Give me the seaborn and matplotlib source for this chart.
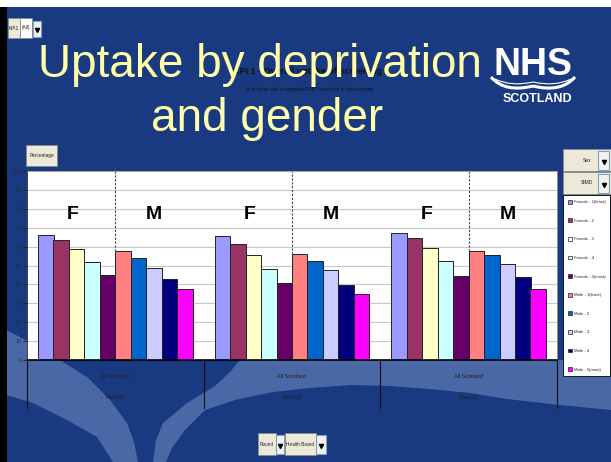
import numpy as np
import pandas as pd
import matplotlib
matplotlib.use("Agg")
import matplotlib.pyplot as plt
from matplotlib.patches import Rectangle, Polygon, Patch, PathPatch
from matplotlib.path import Path
import seaborn as sns

# Chart data
rounds = ["Round1", "Round2", "Round3"]
series = ["Female - 1(least)", "Female - 2", "Female - 3", "Female - 4", "Female - 5(most)",
          "Male - 1(least)", "Male - 2", "Male - 3", "Male - 4", "Male - 5(most)"]
round1 = [66.3, 63.4, 58.9, 51.7, 45.1, 57.6, 54.0, 48.8, 43.0, 37.6]
round2 = [65.6, 61.2, 55.4, 48.0, 40.7, 56.1, 52.6, 47.4, 39.9, 34.7]
round3 = [67.2, 64.3, 59.0, 52.6, 44.3, 57.8, 55.4, 51.0, 43.7, 37.7]
colors = ["#9999FF", "#993366", "#FFFFCC", "#CCFFFF", "#660066",
          "#FF8080", "#0066CC", "#CCCCFF", "#000080", "#FF00FF"]
area_label = "All Scotland"

rows = []
for r, vals in zip(rounds, [round1, round2, round3]):
    for s, v in zip(series, vals):
        rows.append({"Round": r, "SIMD": s, "Percentage": v})
df = pd.DataFrame(rows)

sns.set_style("white")
plt.rcParams["font.family"] = ["Liberation Sans", "DejaVu Sans"]
narrow = ["Liberation Sans Narrow", "Liberation Sans", "DejaVu Sans"]

W, H = 611, 462
dark_blue = "#193A80"
light_blue = "#4A68A6"
fig = plt.figure(figsize=(W / 100, H / 100), dpi=100)
fig.patch.set_facecolor(dark_blue)

# background layer in pixel coordinates
bg = fig.add_axes([0, 0, 1, 1], zorder=0)
bg.set_xlim(0, W)
bg.set_ylim(H, 0)
bg.axis("off")

# slide swooshes
left_band = [(7, 330), (25, 340), (45, 352), (63, 362), (87, 377), (110, 400), (127, 423), (134, 442), (138, 462),
             (113, 462), (97, 437), (67, 420), (33, 403), (7, 395)]
right_area = [(240, 360), (611, 360), (611, 410), (560, 405), (507, 399), (470, 393), (429, 389), (390, 386),
              (351, 385), (310, 388), (273, 392), (235, 400), (205, 410), (185, 430), (172, 448), (166, 462),
              (153, 462), (156, 440), (163, 423), (187, 403), (215, 386), (230, 372)]
for pts in [left_band, right_area]:
    bg.add_patch(Polygon(pts, closed=True, fc=light_blue, ec="none"))

bg.add_patch(Rectangle((0, 0), W, 7, fc="white", ec="none"))
bg.add_patch(Rectangle((0, 7), 7, H, fc="black", ec="none"))


def button(x, y, w, h, label, fc="#ECE9D8", fs=3.4):
    bg.add_patch(Rectangle((x, y), w, h, fc=fc, ec="#8A8A80", lw=0.6))
    bg.text(x + w / 2, y + h / 2, label, fontsize=fs, ha="center", va="center", color="#222222",
            family=narrow)


def drop(x, y, w, h):
    bg.add_patch(Rectangle((x, y), w, h, fc="#F2F2F2", ec="#7EA0C8", lw=0.8))
    bg.plot(x + w / 2, y + h / 2 + 1, marker="v", ms=3, color="black")


button(8, 18, 12, 20, "KPI1")
button(20, 18, 12, 20, "(All)", fc="white")
drop(33, 21, 8, 16)
button(26, 145, 31, 21, "Percentage")
button(563, 149, 48, 22, "Sex", fs=3.6)
drop(598, 151, 11, 19)
button(563, 172, 48, 22, "SIMD", fs=3.6)
drop(598, 174, 11, 19)
button(258, 433, 18, 22, "Round")
drop(276, 435, 8, 19)
button(285, 433, 31, 22, "Health Board")
drop(316, 435, 10, 19)

# chart title hidden behind the slide title
bg.text(307, 72, "KPI 1 - Overall uptake of screening", fontsize=6.5, fontweight="bold",
        ha="center", va="center", color="#111111", family=narrow)
bg.text(310, 89, "% of those with a complete FOBT result out of those invited", fontsize=3.4,
        ha="center", va="center", color="#111111", family=narrow)

# slide title
title_col = "#FFFFAA"
bg.text(38, 77, "Uptake by deprivation", fontsize=33, color=title_col, ha="left", va="baseline", zorder=5)
bg.text(151, 131, "and gender", fontsize=33, color=title_col, ha="left", va="baseline", zorder=5)

# NHS Scotland logo
bg.text(533, 75, "NHS", fontsize=27, fontweight="bold", color="white", ha="center", va="baseline", zorder=5)
for sgn in [-1, 1]:
    p = Path([(533 + sgn * 42, 77), (533 + sgn * 28, 93), (533, 86)], [Path.MOVETO, Path.CURVE3, Path.CURVE3])
    bg.add_patch(PathPatch(p, fc="none", ec="white", lw=2.2, zorder=5))
    p2 = Path([(533 + sgn * 38, 79), (533 + sgn * 22, 87), (533, 82)], [Path.MOVETO, Path.CURVE3, Path.CURVE3])
    bg.add_patch(PathPatch(p2, fc="none", ec="white", lw=0.8, zorder=5))
bg.text(537, 102, "SCOTLAND", fontsize=9, fontweight="bold", color="white", ha="center", va="baseline", zorder=5)

# main chart
pl, pr, pt, pb = 27, 557, 171, 360
ax = fig.add_axes([pl / W, 1 - pb / H, (pr - pl) / W, (pb - pt) / H], zorder=1)
ax.set_facecolor("white")
sns.barplot(data=df, x="Round", y="Percentage", hue="SIMD", palette=colors, hue_order=series,
            order=rounds, width=0.875, gap=0, saturation=1, edgecolor="#222222", linewidth=0.7,
            legend=False, ax=ax)
ax.set_xlim(-0.5, 2.5)
ax.set_ylim(0, 100)
ax.set_yticks(range(0, 101, 10))
ax.set_xticks([])
ax.set_xlabel("")
ax.set_ylabel("")
ax.yaxis.grid(True, color="#C8C8C8", lw=0.8)
ax.set_axisbelow(True)
ax.tick_params(axis="y", labelsize=3.8, labelcolor="#2A2A2A", left=True, length=3, width=0.6,
               color="#222222", pad=1)
for t in ax.get_yticklabels():
    t.set_family(narrow)
ax.spines["left"].set_color("#222222")
ax.spines["left"].set_linewidth(0.6)
ax.spines["bottom"].set_color("black")
ax.spines["bottom"].set_linewidth(1.2)
for side in ["top", "right"]:
    ax.spines[side].set_color("#A0A0A0")
    ax.spines[side].set_linewidth(0.6)

xt = ax.get_xaxis_transform()
for i, (r, vals) in enumerate(zip(rounds, [round1, round2, round3])):
    ax.plot([i, i], [vals[5], 103], ls=(0, (2, 1.5)), color="#444444", lw=0.8, clip_on=False)
    ax.text(i - 0.24, 77, "F", fontsize=14, fontweight="bold", ha="center", va="center", color="black")
    ax.text(i + 0.22, 77, "M", fontsize=14, fontweight="bold", ha="center", va="center", color="black")
    ax.text(i, -0.085, area_label, transform=xt, fontsize=4, ha="center", va="center", color="#222222",
            family=narrow)
    ax.text(i, -0.20, r, transform=xt, fontsize=4, ha="center", va="center", color="#222222",
            family=narrow)
for b in [-0.5, 0.5, 1.5, 2.5]:
    ax.plot([b, b], [0, -0.255], transform=xt, color="#111111", lw=0.8, clip_on=False)

handles = [Patch(facecolor=c, edgecolor="#222222", linewidth=0.5) for c in colors]
leg = ax.legend(handles, series, loc="upper left", bbox_to_anchor=(563 / W, 1 - 195 / H),
                bbox_transform=fig.transFigure, prop={"family": narrow, "size": 3.1}, frameon=True,
                fancybox=False, edgecolor="black", facecolor="white", framealpha=1, handlelength=0.9,
                handleheight=1.0, handletextpad=0.5, labelspacing=3.3, borderpad=1.1, borderaxespad=0)
leg.get_frame().set_linewidth(0.6)

fig.savefig("out.png", dpi=100, facecolor=fig.get_facecolor())
